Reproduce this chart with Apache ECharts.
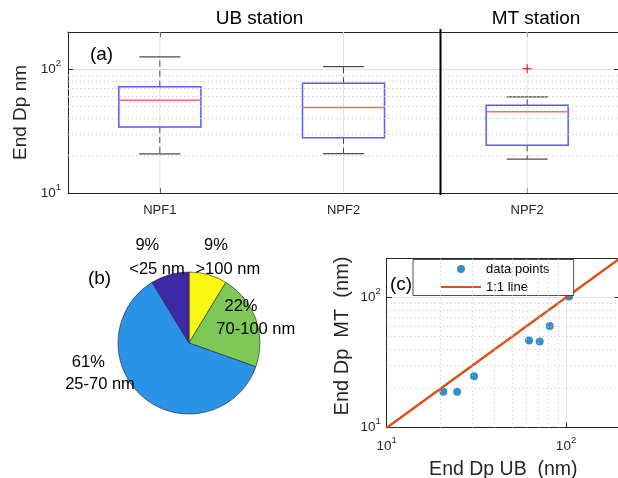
<!DOCTYPE html>
<html>
<head>
<meta charset="utf-8">
<script src="https://cdn.jsdelivr.net/npm/echarts@6/dist/echarts.min.js"></script>
<style>
  html, body { margin: 0; padding: 0; background: #fff; }
  #chart { width: 618px; height: 478px; }
</style>
</head>
<body>
<div id="chart"></div>
<script>
// ---------- data ----------
const boxCategories = ['UB NPF1', 'UB NPF2', 'MT NPF2'];
const boxTickLabels = ['NPF1', 'NPF2', 'NPF2'];
const whiskerLow  = [20.7, 20.8, 18.8];
const quart1      = [34.2, 28.0, 24.3];
const medians     = [56.2, 49.0, 45.4];
const quart3      = [72.3, 77.1, 51.2];
const whiskerHigh = [126, 105, 59.7];
const outlierCat  = [2];
const outlierVal  = [101];
const minorGrid   = [20, 30, 40, 50, 60, 70, 80, 90];

const pieNames    = ['>100 nm', '70-100 nm', '25-70 nm', '<25 nm'];
const pieCounts   = [2, 5, 14, 2];
const pieColors   = ['#f7f712', '#7dc856', '#2a93e8', '#3e28a8'];

const endDpUB = [20.7, 24.7, 30.7, 62.2, 71.3, 81.1, 104];
const endDpMT = [18.9, 18.9, 24.8, 46.8, 46.0, 60.3, 102];
const oneToOne = [10, 200];

// ---------- helpers ----------
const FONT = 'Liberation Sans, Arial, sans-serif';
const AX = '#262626';
const pieTotal = pieCounts.reduce((a, b) => a + b, 0);
const piePct = pieCounts.map(c => Math.round(100 * c / pieTotal) + '%');

function powLabel(v) {
  const e = Math.log10(v);
  const r = Math.round(e);
  if (Math.abs(e - r) > 1e-6) return '';
  return '{b|10}{s|' + r + '}';
}
const powRich = {
  b: { fontSize: 13.5, fontFamily: FONT, color: AX, lineHeight: 22 },
  s: { fontSize: 9.5, fontFamily: FONT, color: AX, lineHeight: 10, verticalAlign: 'top' }
};

function renderBox(params, api) {
  const i = api.value(0);
  const cs = params.coordSys;
  const yv = v => api.coord([i, v])[1];
  const x = api.coord([i, api.value(3)])[0];
  const yLow = yv(api.value(1)), yQ1 = yv(api.value(2)), yMed = yv(api.value(3)),
        yQ3 = yv(api.value(4)), yHigh = yv(api.value(5));
  const hw = 41, cw = 20.5;
  const blk = '#4a4a4a';
  return {
    type: 'group',
    children: [
      { type: 'line', shape: { x1: x, y1: cs.y, x2: x, y2: cs.y + cs.height }, style: { stroke: '#e2e2e2', lineWidth: 1 } },
      { type: 'line', shape: { x1: x, y1: yQ1, x2: x, y2: yLow }, style: { stroke: blk, lineWidth: 1, lineDash: [6, 4] } },
      { type: 'line', shape: { x1: x, y1: yQ3, x2: x, y2: yHigh }, style: { stroke: blk, lineWidth: 1, lineDash: [6, 4] } },
      { type: 'line', shape: { x1: x - cw, y1: yLow, x2: x + cw, y2: yLow }, style: { stroke: blk, lineWidth: 1.2 } },
      { type: 'line', shape: { x1: x - cw, y1: yHigh, x2: x + cw, y2: yHigh }, style: { stroke: blk, lineWidth: 1.2 } },
      { type: 'rect', shape: { x: x - hw, y: yQ3, width: 2 * hw, height: yQ1 - yQ3 }, style: { fill: 'none', stroke: '#5a5aff', lineWidth: 1.5 } },
      { type: 'line', shape: { x1: x - hw, y1: yMed, x2: x + hw, y2: yMed }, style: { stroke: '#ff6a6a', lineWidth: 1.5 } }
    ]
  };
}
function renderOutlier(params, api) {
  const p = api.coord([api.value(0), api.value(1)]);
  const s = 4.5;
  return {
    type: 'group',
    children: [
      { type: 'line', shape: { x1: p[0] - s, y1: p[1], x2: p[0] + s, y2: p[1] }, style: { stroke: '#ff0000', lineWidth: 1 } },
      { type: 'line', shape: { x1: p[0], y1: p[1] - s, x2: p[0], y2: p[1] + s }, style: { stroke: '#ff0000', lineWidth: 1 } }
    ]
  };
}

const minorLine = { type: [1, 3], color: '#c4c4c4', width: 1 };
const majorSplit = { show: true, lineStyle: { color: '#e0e0e0', width: 1 } };

function logAxis(extra) {
  return Object.assign({
    type: 'log', logBase: 10, min: 10, max: 200,
    axisLine: { show: true, lineStyle: { color: AX, width: 1 } },
    axisTick: { show: true, inside: true, length: 5, lineStyle: { color: AX } },
    splitLine: majorSplit,
    axisLabel: { show: false }
  }, extra);
}

const chart = echarts.init(document.getElementById('chart'), null, { renderer: 'canvas' });

const pieTextStyle = (text, x, y) => ({
  type: 'text', x: x, y: y, z: 10,
  style: { text: text, fontSize: 16.5, fontFamily: FONT, fill: '#000', align: 'center', verticalAlign: 'middle' }
});

const option = {
  animation: false,
  backgroundColor: '#fff',
  textStyle: { fontFamily: FONT },
  grid: [
    { left: 68, top: 32, width: 551, height: 161, outerBoundsMode: 'none', containLabel: false },
    { left: 386.7, top: 258.3, width: 233.3, height: 169.4, outerBoundsMode: 'none', containLabel: false }
  ],
  xAxis: [
    {
      gridIndex: 0, type: 'category', data: boxCategories, position: 'bottom',
      axisLine: { show: true, lineStyle: { color: AX } },
      axisTick: { show: true, inside: true, alignWithLabel: true, length: 5, lineStyle: { color: AX } },
      axisLabel: { formatter: (v, idx) => boxTickLabels[idx], fontSize: 13, color: AX, margin: 11, fontFamily: FONT },
      splitLine: { show: false }
    },
    {
      gridIndex: 0, type: 'category', data: boxCategories, position: 'top',
      axisLine: { show: true, lineStyle: { color: AX } },
      axisTick: { show: true, inside: true, alignWithLabel: true, length: 5, lineStyle: { color: AX } },
      axisLabel: { show: false }, splitLine: { show: false }
    },
    logAxis({
      gridIndex: 1, position: 'bottom',
      axisLabel: { show: true, formatter: powLabel, rich: powRich, margin: 8 },
      name: 'End Dp UB  (nm)', nameLocation: 'middle', nameGap: 32,
      nameTextStyle: { fontSize: 19.5, color: AX, fontFamily: FONT }
    }),
    logAxis({ gridIndex: 1, position: 'top', splitLine: { show: false } })
  ],
  yAxis: [
    logAxis({
      gridIndex: 0, position: 'left',
      axisLabel: { show: true, formatter: powLabel, rich: powRich, margin: 7 },
      name: 'End Dp nm', nameLocation: 'middle', nameGap: 31,
      nameTextStyle: { fontSize: 19, color: AX, fontFamily: FONT }
    }),
    logAxis({ gridIndex: 0, position: 'right', splitLine: { show: false } }),
    logAxis({
      gridIndex: 1, position: 'left',
      axisLabel: { show: true, formatter: powLabel, rich: powRich, margin: 6 },
      name: 'End Dp  MT  (nm)', nameLocation: 'middle', nameGap: 34,
      nameTextStyle: { fontSize: 20, color: AX, fontFamily: FONT, padding: [0, 0, 0, 14] }
    }),
    logAxis({ gridIndex: 1, position: 'right', splitLine: { show: false } })
  ],
  legend: {
    data: [
      { name: 'data points' },
      { name: '1:1 line', itemStyle: { opacity: 0, color: 'rgba(0,0,0,0)', borderWidth: 0 } }
    ],
    orient: 'vertical', left: 413, top: 259.5,
    backgroundColor: '#fff', borderColor: AX, borderWidth: 0.8, borderRadius: 0,
    padding: [3, 24, 2, 27], itemWidth: 40, itemHeight: 8, itemGap: 5,
    textStyle: { fontSize: 13, color: '#000', fontFamily: FONT },
    selectedMode: false
  },
  series: [
    {
      type: 'scatter', xAxisIndex: 0, yAxisIndex: 0, data: [], silent: true, z: 1,
      markLine: { silent: true, symbol: 'none', label: { show: false }, lineStyle: minorLine, data: minorGrid.map(v => ({ yAxis: v })) }
    },
    {
      type: 'custom', xAxisIndex: 0, yAxisIndex: 0, renderItem: renderBox, silent: true,
      encode: { x: 0, y: [1, 2, 3, 4, 5] },
      data: boxCategories.map((c, i) => [i, whiskerLow[i], quart1[i], medians[i], quart3[i], whiskerHigh[i]])
    },
    {
      type: 'custom', xAxisIndex: 0, yAxisIndex: 0, renderItem: renderOutlier, silent: true, z: 3,
      encode: { x: 0, y: 1 },
      data: outlierCat.map((c, i) => [c, outlierVal[i]])
    },
    {
      type: 'pie', center: [189, 343], radius: 71, startAngle: 90, clockwise: true, silent: true,
      label: { show: false }, labelLine: { show: false },
      itemStyle: { borderColor: '#222', borderWidth: 0.6 },
      data: pieNames.map((n, i) => ({ name: n, value: pieCounts[i], itemStyle: { color: pieColors[i] } }))
    },
    {
      type: 'scatter', xAxisIndex: 2, yAxisIndex: 2, data: [], silent: true, z: 1,
      markLine: {
        silent: true, symbol: 'none', label: { show: false }, lineStyle: minorLine,
        data: minorGrid.map(v => ({ yAxis: v })).concat(minorGrid.map(v => ({ xAxis: v })))
      }
    },
    {
      name: 'data points', type: 'scatter', xAxisIndex: 2, yAxisIndex: 2, symbolSize: 8, z: 2,
      itemStyle: { color: '#0072BD' },
      data: endDpUB.map((x, i) => [x, endDpMT[i]])
    },
    {
      name: '1:1 line', type: 'line', xAxisIndex: 2, yAxisIndex: 2, symbol: 'none', showSymbol: false,
      lineStyle: { color: '#D95319', width: 2.5 }, itemStyle: { color: '#D95319' },
      data: oneToOne.map(v => [v, v]), z: 3
    }
  ],
  graphic: [
    { type: 'line', shape: { x1: 440.5, y1: 29, x2: 440.5, y2: 195 }, style: { stroke: '#000', lineWidth: 2 }, z: 10 },
    { type: 'text', x: 259.5, y: 19, z: 10, style: { text: 'UB station', fontSize: 19, fontFamily: FONT, fill: '#000', align: 'center', verticalAlign: 'middle' } },
    { type: 'text', x: 536, y: 19, z: 10, style: { text: 'MT station', fontSize: 19, fontFamily: FONT, fill: '#000', align: 'center', verticalAlign: 'middle' } },
    { type: 'text', x: 101.5, y: 55, z: 10, style: { text: '(a)', fontSize: 19, fontFamily: FONT, fill: '#000', align: 'center', verticalAlign: 'middle' } },
    { type: 'text', x: 99.5, y: 279, z: 10, style: { text: '(b)', fontSize: 19, fontFamily: FONT, fill: '#000', align: 'center', verticalAlign: 'middle' } },
    { type: 'text', x: 401, y: 285, z: 1, style: { text: '(c)', fontSize: 19, fontFamily: FONT, fill: '#000', align: 'center', verticalAlign: 'middle' } },
    pieTextStyle(piePct[3], 147.3, 245.5),
    pieTextStyle(pieNames[3], 157, 269),
    pieTextStyle(piePct[0], 216, 245.5),
    pieTextStyle(pieNames[0], 227.8, 269),
    pieTextStyle(piePct[1], 241, 306.7),
    pieTextStyle(pieNames[1], 255.8, 329.3),
    pieTextStyle(piePct[2], 88.3, 362.3),
    pieTextStyle(pieNames[2], 100, 384.3)
  ]
};
chart.setOption(option);
</script>
</body>
</html>
